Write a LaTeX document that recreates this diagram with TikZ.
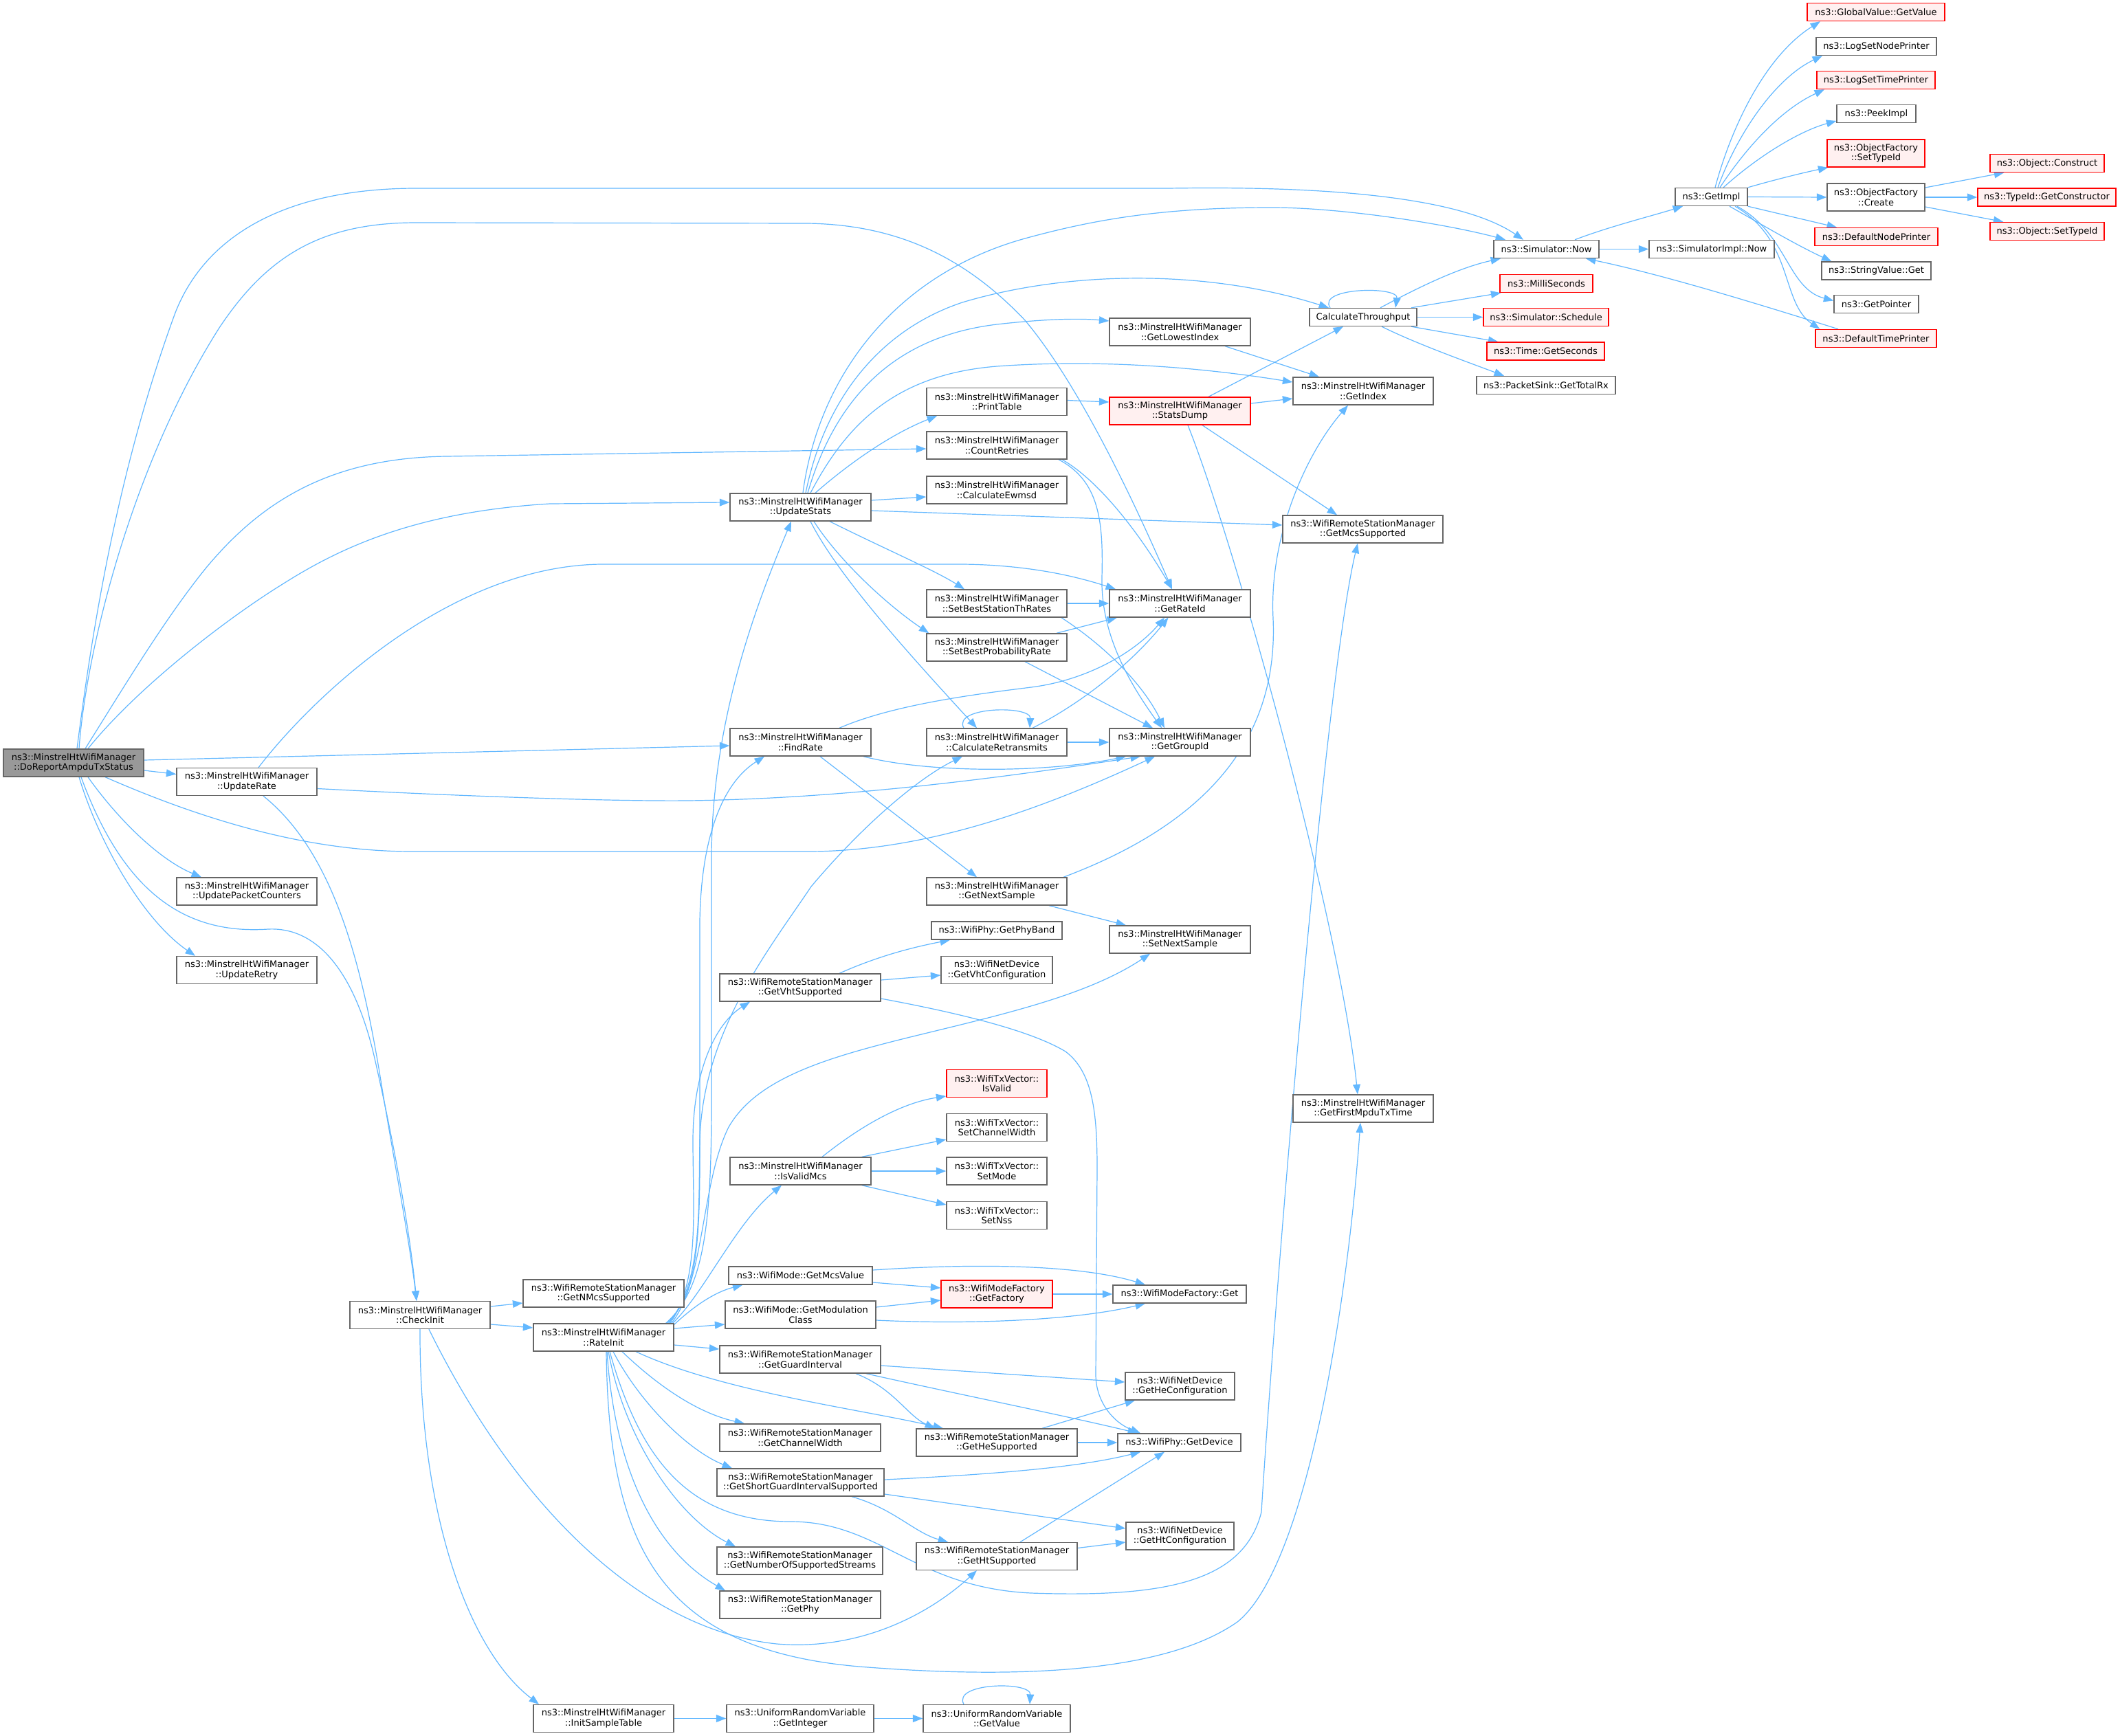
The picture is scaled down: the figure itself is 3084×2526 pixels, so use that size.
\documentclass[tikz,border=0pt]{standalone}
\usepackage{fontspec}
\setmainfont{DejaVu Sans}
\usetikzlibrary{arrows.meta,calc}
\definecolor{edgec}{HTML}{63B8FF}
\definecolor{nodeb}{HTML}{666666}
\definecolor{rootf}{HTML}{999999}
\definecolor{redf}{HTML}{FFF0F0}
\definecolor{redb}{HTML}{FF0000}
\pgfdeclarelayer{bg}
\pgfsetlayers{bg,main}
\tikzset{
 nd/.style={draw=nodeb, fill=white, line width=0.35pt, inner sep=0pt, align=center,
   font=\fontsize{3.26pt}{3.67pt}\selectfont, text=black, minimum height=10pt},
 nd1/.style={nd, minimum height=6.5pt},
 rednd/.style={draw=redb, fill=redf},
 rootnd/.style={fill=rootf},
 ar/.style={draw=edgec, line width=0.3pt, -{Triangle[length=3.6pt,width=2.7pt]}}
}
\begin{document}
\begin{tikzpicture}[x=0.25pt, y=-0.25pt]
\useasboundingbox (0,0) rectangle (3084,2526);
\begin{pgfonlayer}{bg}
\fill[white] (0,0) rectangle (3084,2526);
\end{pgfonlayer}
% ---------------- nodes ----------------
\node[nd, rootnd, minimum width=51pt] (dra) at (107,1110) {ns3::MinstrelHtWifiManager\\::DoReportAmpduTxStatus};
\node[nd, minimum width=51pt] (updaterate) at (359,1137.5) {ns3::MinstrelHtWifiManager\\::UpdateRate};
\node[nd, minimum width=51pt] (updatepc) at (359,1297) {ns3::MinstrelHtWifiManager\\::UpdatePacketCounters};
\node[nd, minimum width=51pt] (updateretry) at (359,1411.5) {ns3::MinstrelHtWifiManager\\::UpdateRetry};
\node[nd, minimum width=51pt] (checkinit) at (611,1913.5) {ns3::MinstrelHtWifiManager\\::CheckInit};
\node[nd, minimum width=58.5pt] (getnmcs) at (878,1882) {ns3::WifiRemoteStationManager\\::GetNMcsSupported};
\node[nd, minimum width=51pt] (rateinit) at (878,1946) {ns3::MinstrelHtWifiManager\\::RateInit};
\node[nd, minimum width=51pt] (initsample) at (878,2500.5) {ns3::MinstrelHtWifiManager\\::InitSampleTable};
\node[nd, minimum width=51.25pt] (updatestats) at (1164.5,738) {ns3::MinstrelHtWifiManager\\::UpdateStats};
\node[nd, minimum width=51.25pt] (findrate) at (1164.5,1080) {ns3::MinstrelHtWifiManager\\::FindRate};
\node[nd, minimum width=58.5pt] (getvht) at (1164,1437) {ns3::WifiRemoteStationManager\\::GetVhtSupported};
\node[nd, minimum width=51.25pt] (isvalidmcs) at (1164.5,1704) {ns3::MinstrelHtWifiManager\\::IsValidMcs};
\node[nd1, minimum width=52.25pt] (getmcsvalue) at (1164.5,1856) {ns3::WifiMode::GetMcsValue};
\node[nd, minimum width=54.75pt] (getmodclass) at (1164.5,1913) {ns3::WifiMode::GetModulation\\Class};
\node[nd, minimum width=58.5pt] (getguard) at (1164,1978) {ns3::WifiRemoteStationManager\\::GetGuardInterval};
\node[nd, minimum width=58.5pt] (getchanwidth) at (1164,2092) {ns3::WifiRemoteStationManager\\::GetChannelWidth};
\node[nd, minimum width=60.75pt] (getsgi) at (1164.5,2157) {ns3::WifiRemoteStationManager\\::GetShortGuardIntervalSupported};
\node[nd, minimum width=60.25pt] (getnss) at (1163.5,2271) {ns3::WifiRemoteStationManager\\::GetNumberOfSupportedStreams};
\node[nd, minimum width=58.5pt] (getphy) at (1164,2335) {ns3::WifiRemoteStationManager\\::GetPhy};
\node[nd, minimum width=53.5pt] (getinteger) at (1164,2500.5) {ns3::UniformRandomVariable\\::GetInteger};
\node[nd, minimum width=51pt] (printtable) at (1450,584.5) {ns3::MinstrelHtWifiManager\\::PrintTable};
\node[nd, minimum width=51pt] (countretries) at (1450,648) {ns3::MinstrelHtWifiManager\\::CountRetries};
\node[nd, minimum width=51pt] (calcewmsd) at (1450,713) {ns3::MinstrelHtWifiManager\\::CalculateEwmsd};
\node[nd, minimum width=51pt] (setbeststh) at (1450,878) {ns3::MinstrelHtWifiManager\\::SetBestStationThRates};
\node[nd, minimum width=51pt] (setbestprob) at (1450,942) {ns3::MinstrelHtWifiManager\\::SetBestProbabilityRate};
\node[nd, minimum width=51pt] (calcretrans) at (1450,1080) {ns3::MinstrelHtWifiManager\\::CalculateRetransmits};
\node[nd, minimum width=51pt] (getnextsample) at (1450,1297) {ns3::MinstrelHtWifiManager\\::GetNextSample};
\node[nd1, minimum width=47.5pt] (getphyband) at (1450,1354) {ns3::WifiPhy::GetPhyBand};
\node[nd, minimum width=40.5pt] (getvhtconf) at (1450,1411.5) {ns3::WifiNetDevice\\::GetVhtConfiguration};
\node[nd, rednd, minimum width=36.5pt] (isvalid) at (1450,1576.5) {ns3::WifiTxVector::\\IsValid};
\node[nd, minimum width=36.5pt] (setchw) at (1450,1640.5) {ns3::WifiTxVector::\\SetChannelWidth};
\node[nd, minimum width=36.5pt] (setmode) at (1450,1704) {ns3::WifiTxVector::\\SetMode};
\node[nd, minimum width=36.5pt] (setnss) at (1450,1768.5) {ns3::WifiTxVector::\\SetNss};
\node[nd, rednd, minimum width=40.5pt] (getfactory) at (1450,1883) {ns3::WifiModeFactory\\::GetFactory};
\node[nd, minimum width=58.5pt] (gethesup) at (1450,2099) {ns3::WifiRemoteStationManager\\::GetHeSupported};
\node[nd, minimum width=58.5pt] (gethtsup) at (1450,2264.5) {ns3::WifiRemoteStationManager\\::GetHtSupported};
\node[nd, minimum width=53.5pt] (urvgetvalue) at (1450,2500.5) {ns3::UniformRandomVariable\\::GetValue};
\node[nd, minimum width=51.25pt] (getlowest) at (1716.5,483) {ns3::MinstrelHtWifiManager\\::GetLowestIndex};
\node[nd, rednd, minimum width=51.25pt] (statsdump) at (1716.5,598) {ns3::MinstrelHtWifiManager\\::StatsDump};
\node[nd, minimum width=51.25pt] (getrateid) at (1716.5,878) {ns3::MinstrelHtWifiManager\\::GetRateId};
\node[nd, minimum width=51.25pt] (getgroupid) at (1716.5,1080) {ns3::MinstrelHtWifiManager\\::GetGroupId};
\node[nd, minimum width=51.25pt] (setnextsample) at (1716.5,1367) {ns3::MinstrelHtWifiManager\\::SetNextSample};
\node[nd1, minimum width=48.5pt] (wmfget) at (1716,1883) {ns3::WifiModeFactory::Get};
\node[nd, minimum width=39.75pt] (gethecfg) at (1716.5,2017) {ns3::WifiNetDevice\\::GetHeConfiguration};
\node[nd1, minimum width=44.75pt] (getdevice) at (1715.5,2099) {ns3::WifiPhy::GetDevice};
\node[nd, minimum width=39.25pt] (gethtcfg) at (1716.5,2235) {ns3::WifiNetDevice\\::GetHtConfiguration};
\node[nd1, minimum width=39pt] (calcthr) at (1983,461.5) {CalculateThroughput};
\node[nd, minimum width=51pt] (getindex) at (1983,569) {ns3::MinstrelHtWifiManager\\::GetIndex};
\node[nd, minimum width=58.25pt] (getmcssup) at (1982.5,770) {ns3::WifiRemoteStationManager\\::GetMcsSupported};
\node[nd, minimum width=51pt] (getfirstmpdu) at (1983,1613) {ns3::MinstrelHtWifiManager\\::GetFirstMpduTxTime};
\node[nd1, minimum width=38.25pt] (simnow) at (2249.5,362.5) {ns3::Simulator::Now};
\node[nd1, rednd, minimum width=33.75pt] (millis) at (2249.5,412.5) {ns3::MilliSeconds};
\node[nd1, rednd, minimum width=45.5pt] (schedule) at (2249,461.5) {ns3::Simulator::Schedule};
\node[nd1, rednd, minimum width=42.75pt] (getseconds) at (2248.5,511) {ns3::Time::GetSeconds};
\node[nd1, minimum width=50.5pt] (gettotalrx) at (2249,560.5) {ns3::PacketSink::GetTotalRx};
\node[nd1, minimum width=26.25pt] (getimpl) at (2489.5,286.5) {ns3::GetImpl};
\node[nd1, minimum width=45.5pt] (simimplnow) at (2490,362.5) {ns3::SimulatorImpl::Now};
\node[nd1, rednd, minimum width=50pt] (globalvalue) at (2729,17.5) {ns3::GlobalValue::GetValue};
\node[nd1, minimum width=43.75pt] (logsetnode) at (2729.5,67.5) {ns3::LogSetNodePrinter};
\node[nd1, rednd, minimum width=43pt] (logsettime) at (2729,116.5) {ns3::LogSetTimePrinter};
\node[nd1, minimum width=28.75pt] (peekimpl) at (2729.5,165.5) {ns3::PeekImpl};
\node[nd, rednd, minimum width=35.5pt] (ofsettypeid) at (2729,223) {ns3::ObjectFactory\\::SetTypeId};
\node[nd, minimum width=35.5pt] (ofcreate) at (2729,287) {ns3::ObjectFactory\\::Create};
\node[nd1, rednd, minimum width=44.75pt] (defnodeprinter) at (2729.5,344.5) {ns3::DefaultNodePrinter};
\node[nd1, minimum width=39.75pt] (stringvalueget) at (2729.5,394) {ns3::StringValue::Get};
\node[nd1, minimum width=30.75pt] (getpointer) at (2729.5,442.5) {ns3::GetPointer};
\node[nd1, rednd, minimum width=44pt] (deftimeprinter) at (2729,492.5) {ns3::DefaultTimePrinter};
\node[nd1, rednd, minimum width=41.5pt] (objconstruct) at (2978,237.5) {ns3::Object::Construct};
\node[nd1, rednd, minimum width=50.25pt] (getconstructor) at (2977.5,287) {ns3::TypeId::GetConstructor};
\node[nd1, rednd, minimum width=41.5pt] (objsettypeid) at (2978,336.5) {ns3::Object::SetTypeId};
% ---------------- edges ----------------
\begin{pgfonlayer}{bg}
% DoReportAmpduTxStatus
\draw[ar] ($(dra.north)+(5,0)$) .. controls (130,950) and (165,700) .. (255,455) .. controls (300,340) and (420,274) .. (606,274) -- (1700,274) .. controls (1950,270) and (2130,290) .. ($(simnow.north)+(-33.5,0)$);
\draw[ar] ($(dra.north)+(8,0)$) .. controls (125,950) and (190,680) .. (319,477) .. controls (390,370) and (470,324) .. (606,324) -- (1175,325) .. controls (1300,327) and (1400,370) .. (1491,466) .. controls (1570,560) and (1650,730) .. ($(getrateid.north)+(-11.5,0)$);
\draw[ar] ($(dra.north)+(17,0)$) .. controls (180,1000) and (240,900) .. (300,826) .. controls (380,730) and (480,666) .. (650,664) -- ($(countretries.west)+(0,5)$);
\draw[ar] ($(dra.north)+(21,0)$) .. controls (200,1000) and (330,900) .. (411,850) .. controls (490,800) and (600,745) .. (800,733) -- ($(updatestats.west)+(0,-7)$);
\draw[ar] ($(dra.east)+(0,-4)$) -- ($(findrate.west)+(0,5)$);
\draw[ar] ($(dra.east)+(0,11)$) -- ($(updaterate.west)+(0,-11)$);
\draw[ar] ($(dra.south)+(46,0)$) .. controls (300,1195) and (450,1239) .. (600,1239) -- (1175,1239) .. controls (1350,1239) and (1520,1175) .. ($(getgroupid.south)+(-36.5,0)$);
\draw[ar] ($(dra.south)+(21,0)$) .. controls (170,1190) and (230,1250) .. ($(updatepc.north)+(-66,0)$);
\draw[ar] ($(dra.south)+(8,0)$) .. controls (145,1230) and (210,1340) .. ($(updateretry.north)+(-75,0)$);
\draw[ar] ($(dra.south)+(11,0)$) .. controls (180,1300) and (270,1360) .. (390,1352) .. controls (470,1348) and (520,1430) .. (545,1540) .. controls (570,1650) and (595,1780) .. ($(checkinit.north)+(-5,0)$);
% UpdateRate
\draw[ar] ($(updaterate.north)+(17,0)$) .. controls (450,1020) and (650,824) .. (874,821) -- (1400,821) .. controls (1500,822) and (1570,840) .. ($(getrateid.north)+(-93.5,0)$);
\draw[ar] ($(updaterate.east)+(0,10)$) .. controls (700,1160) and (900,1166) .. (1000,1165) .. controls (1250,1162) and (1500,1125) .. ($(getgroupid.south)+(-57.5,0)$);
\draw[ar] ($(updaterate.south)+(24,0)$) .. controls (485,1240) and (525,1400) .. (552,1560) .. controls (573,1690) and (595,1800) .. ($(checkinit.north)+(-5,0)$);
% CheckInit
\draw[ar] ($(checkinit.east)+(0,-12.5)$) -- ($(getnmcs.west)+(0,14)$);
\draw[ar] ($(checkinit.east)+(0,13.5)$) -- ($(rateinit.west)+(0,-14)$);
\draw[ar] (checkinit.south) .. controls (610,2200) and (680,2400) .. ($(initsample.north)+(-94,0)$);
\draw[ar] ($(checkinit.south)+(13,0)$) .. controls (740,2170) and (920,2370) .. (1130,2392) .. controls (1250,2402) and (1350,2350) .. ($(gethtsup.south)+(-29,0)$);
% RateInit
\draw[ar] ($(rateinit.south)+(4,0)$) .. controls (885,2250) and (960,2400) .. (1250,2425) .. controls (1500,2445) and (1700,2430) .. (1800,2360) .. controls (1900,2280) and (1960,1900) .. ($(getfirstmpdu.south)+(-4,0)$);
\draw[ar] ($(rateinit.south)+(9,0)$) .. controls (930,2120) and (1000,2214) .. (1150,2214) .. controls (1280,2214) and (1330,2310) .. (1500,2318) .. controls (1700,2325) and (1810,2300) .. (1835,2200) .. controls (1850,1950) and (1925,1000) .. ($(getmcssup.south)+(-7.5,0)$);
\draw[ar] ($(rateinit.north east)+(-12,0)$) .. controls (1025,1875) and (1035,1780) .. (1035,1600) -- (1035,1250) .. controls (1035,1050) and (1100,880) .. ($(updatestats.south)+(-13.5,0)$);
\draw[ar] ($(rateinit.north east)+(-10,0)$) .. controls (1022,1875) and (1018,1780) .. (1018,1600) -- (1018,1340) .. controls (1020,1220) and (1050,1140) .. ($(findrate.south)+(-52.5,0)$);
\draw[ar] ($(rateinit.north east)+(-8,0)$) .. controls (1022,1865) and (1016,1760) .. (1018,1660) .. controls (1022,1500) and (1120,1380) .. (1180,1290) .. controls (1260,1195) and (1340,1130) .. ($(calcretrans.south)+(-50,0)$);
\draw[ar] ($(rateinit.north east)+(-6,0)$) .. controls (1018,1865) and (1008,1760) .. (1008,1660) .. controls (1008,1560) and (1040,1490) .. ($(getvht.south)+(-73,0)$);
\draw[ar] ($(rateinit.north east)+(-4,0)$) .. controls (1025,1865) and (1020,1720) .. (1060,1640) .. controls (1100,1570) and (1200,1540) .. (1316,1511) .. controls (1450,1478) and (1580,1450) .. ($(setnextsample.south)+(-43.5,0)$);
\draw[ar] ($(rateinit.north east)+(-2,0)$) .. controls (1025,1880) and (1070,1780) .. ($(isvalidmcs.south)+(-27.5,0)$);
\draw[ar] ($(rateinit.north east)+(0,2)$) .. controls (1010,1900) and (1040,1880) .. ($(getmcsvalue.south west)+(21,0)$);
\draw[ar] ($(rateinit.east)+(0,-13)$) -- ($(getmodclass.west)+(0,14)$);
\draw[ar] ($(rateinit.east)+(0,11)$) -- ($(getguard.west)+(0,-15)$);
\draw[ar] ($(rateinit.south)+(47,0)$) .. controls (1050,2025) and (1250,2050) .. ($(gethesup.north)+(-78,0)$);
\draw[ar] ($(rateinit.south)+(27,0)$) .. controls (950,2010) and (1010,2055) .. ($(getchanwidth.north)+(-81,0)$);
\draw[ar] ($(rateinit.south)+(14,0)$) .. controls (930,2040) and (1000,2110) .. ($(getsgi.north)+(-99.5,0)$);
\draw[ar] ($(rateinit.south)+(7,0)$) .. controls (910,2100) and (990,2210) .. ($(getnss.north)+(-93.5,0)$);
\draw[ar] ($(rateinit.south)+(5,0)$) .. controls (895,2150) and (960,2260) .. ($(getphy.north)+(-109,0)$);
% sample table
\draw[ar] (initsample.east) -- (getinteger.west);
\draw[ar] (getinteger.east) -- (urvgetvalue.west);
\draw[ar] ($(urvgetvalue.north)+(-48,0)$) .. controls (1385,2448) and (1500,2446) .. ($(urvgetvalue.north)+(48,0)$);
% UpdateStats
\draw[ar] ($(updatestats.north)+(3.5,0)$) .. controls (1190,550) and (1300,400) .. (1491,347) .. controls (1600,317) and (1700,302) .. (1850,302) .. controls (1950,302) and (2100,325) .. ($(simnow.north)+(-59.5,0)$);
\draw[ar] ($(updatestats.north)+(7.5,0)$) .. controls (1200,580) and (1280,480) .. (1400,440) .. controls (1550,395) and (1750,390) .. ($(calcthr.north)+(-50,0)$);
\draw[ar] ($(updatestats.north)+(10.5,0)$) .. controls (1215,580) and (1300,490) .. (1450,472) .. controls (1520,464) and (1570,463) .. ($(getlowest.west)+(0,-16)$);
\draw[ar] ($(updatestats.north)+(14.5,0)$) .. controls (1230,620) and (1300,545) .. (1450,533) .. controls (1600,522) and (1750,535) .. ($(getindex.west)+(0,-13)$);
\draw[ar] ($(updatestats.north)+(21.5,0)$) .. controls (1240,670) and (1300,630) .. ($(printtable.south)+(-87,0)$);
\draw[ar] ($(updatestats.east)+(0,-10)$) -- ($(calcewmsd.west)+(0,10)$);
\draw[ar] ($(updatestats.east)+(0,5)$) -- ($(getmcssup.west)+(0,-6)$);
\draw[ar] ($(updatestats.south)+(42.5,0)$) .. controls (1290,800) and (1360,830) .. ($(setbeststh.north)+(-47,0)$);
\draw[ar] ($(updatestats.south)+(19.5,0)$) .. controls (1220,815) and (1290,880) .. ($(setbestprob.north west)+(4,0)$);
\draw[ar] ($(updatestats.south)+(14.5,0)$) .. controls (1220,840) and (1330,960) .. ($(calcretrans.north)+(-29,0)$);
% StatsDump etc.
\draw[ar] ($(printtable.east)+(0,-2)$) -- ($(statsdump.west)+(0,-13)$);
\draw[ar] ($(statsdump.north)+(41.5,0)$) -- ($(calcthr.south)+(-29,0)$);
\draw[ar] ($(statsdump.east)+(0,-11)$) -- ($(getindex.west)+(0,11)$);
\draw[ar] ($(statsdump.south)+(32.5,0)$) -- ($(getmcssup.north)+(-37.5,0)$);
\draw[ar] ($(statsdump.south)+(11.5,0)$) .. controls (1800,800) and (1950,1350) .. ($(getfirstmpdu.north)+(-8,0)$);
\draw[ar] ($(getlowest.south)+(65.5,0)$) -- ($(getindex.north)+(-64,0)$);
\draw[ar] ($(getnextsample.north)+(97,0)$) .. controls (1750,1200) and (1860,1080) .. (1852,900) .. controls (1846,780) and (1900,660) .. ($(getindex.south)+(-22,0)$);
% FindRate, CalculateRetransmits, etc.
\draw[ar] ($(findrate.north)+(56.5,0)$) .. controls (1300,1025) and (1420,1010) .. (1500,1000) .. controls (1580,990) and (1650,950) .. ($(getrateid.south)+(-22.5,0)$);
\draw[ar] ($(calcretrans.north)+(52,0)$) .. controls (1580,1020) and (1650,960) .. ($(getrateid.south)+(-17,0)$);
\draw[ar] ($(findrate.south)+(91.5,0)$) .. controls (1350,1125) and (1520,1125) .. ($(getgroupid.south)+(-78.5,0)$);
\draw[ar] ($(findrate.south)+(28.5,0)$) -- ($(getnextsample.north)+(-29,0)$);
\draw[ar] (calcretrans.east) -- (getgroupid.west);
\draw[ar] ($(calcretrans.north)+(-48,0)$) .. controls (1385,1028) and (1500,1026) .. ($(calcretrans.north)+(48,0)$);
\draw[ar] (setbeststh.east) -- (getrateid.west);
\draw[ar] ($(setbeststh.south)+(94,0)$) .. controls (1600,935) and (1660,990) .. ($(getgroupid.north)+(-22.5,0)$);
\draw[ar] ($(setbestprob.north)+(87,0)$) -- ($(getrateid.south)+(-91.5,0)$);
\draw[ar] ($(setbestprob.south)+(41,0)$) -- ($(getgroupid.north)+(-39.5,0)$);
\draw[ar] ($(countretries.south)+(95,0)$) .. controls (1600,700) and (1660,780) .. ($(getrateid.north)+(-11.5,0)$);
\draw[ar] ($(countretries.south)+(90,0)$) .. controls (1600,700) and (1605,760) .. (1603,840) .. controls (1601,920) and (1640,990) .. ($(getgroupid.north)+(-26.5,0)$);
\draw[ar] ($(getnextsample.south)+(76,0)$) -- ($(setnextsample.north)+(-78.5,0)$);
% GetVhtSupported
\draw[ar] ($(getvht.north)+(57,0)$) .. controls (1280,1390) and (1330,1378) .. ($(getphyband.south)+(-68,0)$);
\draw[ar] ($(getvht.east)+(0,-11)$) -- ($(getvhtconf.west)+(0,7.5)$);
\draw[ar] ($(getvht.east)+(0,16)$) .. controls (1400,1475) and (1500,1500) .. (1550,1530) .. controls (1590,1560) and (1596,1620) .. (1596,1700) -- (1594,2000) .. controls (1594,2040) and (1620,2070) .. ($(getdevice.north)+(-56.5,0)$);
% IsValidMcs
\draw[ar] ($(isvalidmcs.north)+(31.5,0)$) .. controls (1250,1640) and (1310,1605) .. ($(isvalid.west)+(0,18.5)$);
\draw[ar] ($(isvalidmcs.north east)+(-14,0)$) -- ($(setchw.west)+(0,17.5)$);
\draw[ar] (isvalidmcs.east) -- (setmode.west);
\draw[ar] ($(isvalidmcs.south east)+(-14,0)$) -- ($(setnss.west)+(0,-15.5)$);
% WifiMode
\draw[ar] ($(getmcsvalue.east)+(0,10)$) -- ($(getfactory.west)+(0,-9)$);
\draw[ar] ($(getmcsvalue.east)+(0,-8)$) .. controls (1420,1838) and (1570,1840) .. ($(wmfget.north)+(-50,0)$);
\draw[ar] ($(getmodclass.east)+(0,-11)$) -- ($(getfactory.west)+(0,9)$);
\draw[ar] ($(getmodclass.east)+(0,8)$) .. controls (1420,1928) and (1570,1920) .. ($(wmfget.south)+(-50,0)$);
\draw[ar] (getfactory.east) -- (wmfget.west);
% Guard interval / HE / HT
\draw[ar] ($(getguard.east)+(0,9)$) -- ($(gethecfg.west)+(0,-6)$);
\draw[ar] ($(getguard.south)+(81,0)$) .. controls (1300,2020) and (1320,2060) .. ($(gethesup.north)+(-90,0)$);
\draw[ar] ($(getguard.south)+(96,0)$) .. controls (1400,2030) and (1550,2060) .. ($(getdevice.north)+(-60.5,0)$);
\draw[ar] ($(gethesup.north)+(66,0)$) -- ($(gethecfg.south)+(-65.5,0)$);
\draw[ar] (gethesup.east) -- (getdevice.west);
\draw[ar] ($(getsgi.east)+(0,-4)$) .. controls (1450,2145) and (1570,2135) .. ($(getdevice.south)+(-56.5,0)$);
\draw[ar] ($(getsgi.east)+(0,17)$) -- ($(gethtcfg.west)+(0,-11)$);
\draw[ar] ($(getsgi.south)+(74.5,0)$) .. controls (1300,2195) and (1330,2230) .. ($(gethtsup.north)+(-71,0)$);
\draw[ar] ($(gethtsup.east)+(0,-12)$) -- ($(gethtcfg.west)+(0,9)$);
\draw[ar] ($(gethtsup.north)+(34,0)$) -- ($(getdevice.south)+(-21.5,0)$);
% CalculateThroughput
\draw[ar] ($(calcthr.north)+(-48,0)$) .. controls (1915,418) and (2035,416) .. ($(calcthr.north)+(47,0)$);
\draw[ar] ($(calcthr.north)+(25,0)$) .. controls (2060,420) and (2120,390) .. ($(simnow.south)+(-66.5,0)$);
\draw[ar] ($(calcthr.north)+(70,0)$) -- ($(millis.south west)+(2,0)$);
\draw[ar] (calcthr.east) -- (schedule.west);
\draw[ar] ($(calcthr.south)+(70,0)$) -- ($(getseconds.north west)+(17,0)$);
\draw[ar] ($(calcthr.south)+(27,0)$) .. controls (2060,500) and (2130,525) .. ($(gettotalrx.north)+(-61,0)$);
% Simulator::Now and GetImpl
\draw[ar] ($(deftimeprinter.north)+(-55,0)$) .. controls (2550,440) and (2420,400) .. ($(simnow.south)+(57.5,0)$);
\draw[ar] ($(simnow.north)+(41.5,0)$) .. controls (2340,330) and (2400,315) .. ($(getimpl.south)+(-41.5,0)$);
\draw[ar] (simnow.east) -- (simimplnow.west);
\draw[ar] ($(getimpl.north)+(5.5,0)$) .. controls (2520,180) and (2570,80) .. ($(globalvalue.south)+(-81,0)$);
\draw[ar] ($(getimpl.north)+(9.5,0)$) .. controls (2525,200) and (2580,115) .. ($(logsetnode.south)+(-78.5,0)$);
\draw[ar] ($(getimpl.north)+(12.5,0)$) .. controls (2540,215) and (2590,160) .. ($(logsettime.south)+(-75,0)$);
\draw[ar] ($(getimpl.north)+(17.5,0)$) .. controls (2560,225) and (2620,190) .. ($(peekimpl.west)+(0,10.5)$);
\draw[ar] (getimpl.north east) .. controls (2580,262) and (2620,252) .. ($(ofsettypeid.south west)+(2,0)$);
\draw[ar] (getimpl.east) -- (ofcreate.west);
\draw[ar] (getimpl.south east) -- ($(defnodeprinter.north)+(-57.5,0)$);
\draw[ar] ($(getimpl.south)+(26.5,0)$) .. controls (2560,325) and (2610,355) .. ($(stringvalueget.north west)+(15,0)$);
\draw[ar] ($(getimpl.south)+(37.5,0)$) .. controls (2600,340) and (2600,420) .. ($(getpointer.west)+(0,-5)$);
\draw[ar] ($(getimpl.south)+(34.5,0)$) .. controls (2610,350) and (2590,440) .. ($(deftimeprinter.north west)+(7,0)$);
\draw[ar] ($(ofcreate.east)+(0,-14)$) -- ($(objconstruct.south west)+(21,0)$);
\draw[ar] (ofcreate.east) -- (getconstructor.west);
\draw[ar] ($(ofcreate.east)+(0,14)$) -- ($(objsettypeid.north west)+(20,0)$);
\end{pgfonlayer}
\end{tikzpicture}
\end{document}
